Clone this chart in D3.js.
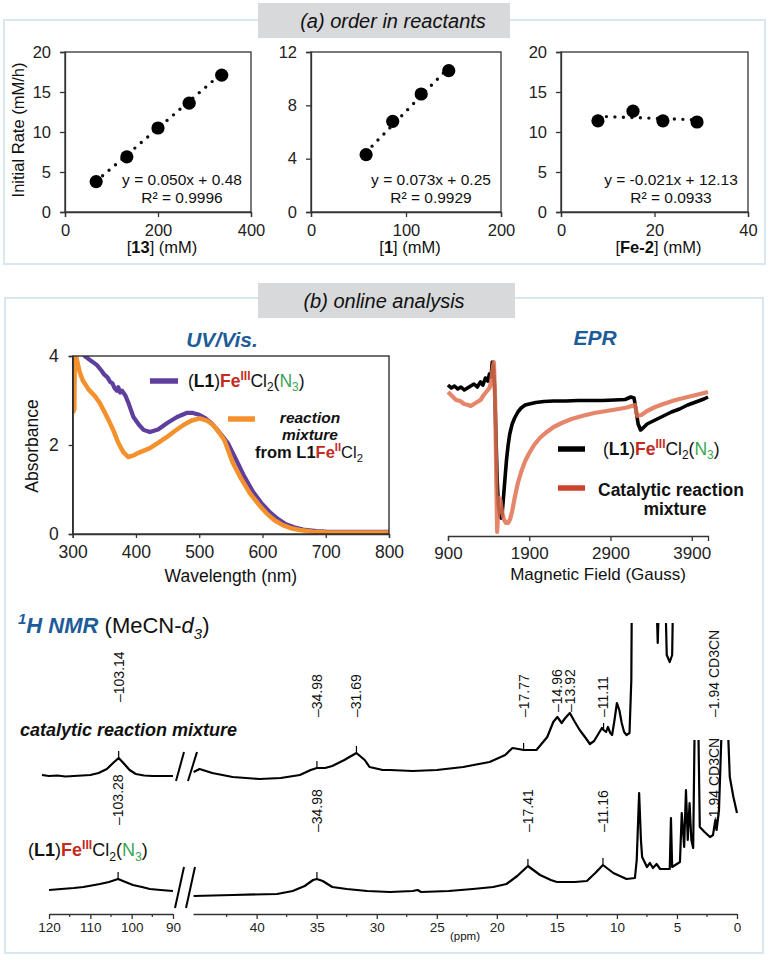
<!DOCTYPE html>
<html><head><meta charset="utf-8">
<script src="https://cdn.jsdelivr.net/npm/d3@7"></script>
<style>body{margin:0;background:#fff}svg{display:block}</style>
</head><body>
<svg id="c" width="772" height="960"></svg>
<script>
// ================= DATA =================
// (a) order in reactants
const conc13 = [67, 133, 200, 267, 337];
const rate13 = [3.8, 6.9, 10.5, 13.6, 17.1];
const conc1 = [58, 86, 116, 145];
const rate1 = [4.3, 6.8, 8.85, 10.6];
const concFe2 = [7.9, 15.4, 21.8, 29.1];
const rateFe2 = [11.4, 12.6, 11.4, 11.25];
const fitSlope = [0.050, 0.073, -0.021];
const fitIntercept = [0.48, 0.25, 12.13];
const fitR2 = ["0.9996", "0.9929", "0.0933"];
const rateXDomain = [[0, 400], [0, 200], [0, 40]];
const rateYDomain = [[0, 20], [0, 12], [0, 20]];
const rateXTicks = [[0, 200, 400], [0, 100, 200], [0, 20, 40]];
const rateYTicks = [[0, 5, 10, 15, 20], [0, 4, 8, 12], [0, 5, 10, 15, 20]];

// (b) UV/Vis
const uvWaveFe3 = [310,319,330,338,345,350,355,359,363,366,370,372,375,378,383,388,396,405,412,422,435,450,465,480,490,500,510,520,530,545,558,571,585,598,611,624,637,650,664,685,700,750,800];
const uvAbsFe3  = [4.3,4.0,3.88,3.8,3.68,3.58,3.52,3.42,3.38,3.28,3.22,3.3,3.18,3.22,3.12,2.95,2.63,2.45,2.34,2.29,2.35,2.5,2.63,2.72,2.72,2.68,2.6,2.48,2.32,2.05,1.68,1.3,0.95,0.7,0.5,0.34,0.22,0.15,0.1,0.065,0.055,0.05,0.05];
const uvWaveMix = [300,302.5,303.5,306,311,316,325,335,343,350,357,364,372,380,388,395,405,422,435,449,462,475,488,501,512,522,532,540,553,566,580,593,606,619,632,645,659,680,700,800];
const uvAbsMix  = [2.72,2.8,4.2,3.95,3.64,3.45,3.25,3.1,2.94,2.75,2.55,2.34,2.05,1.84,1.73,1.76,1.83,1.93,2.05,2.18,2.32,2.45,2.55,2.6,2.55,2.45,2.27,2.1,1.6,1.25,0.92,0.68,0.47,0.31,0.2,0.13,0.09,0.05,0.04,0.035];
const uvXTicks = [300, 400, 500, 600, 700, 800];
const uvYTicks = [0, 2, 4];

// (b) EPR
const eprFieldFe3 = [900,940,980,1020,1060,1100,1140,1180,1220,1260,1300,1330,1360,1390,1410,1430,1445,1460,1475,1490,1505,1520,1540,1555,1565,1575,1590,1605,1620,1640,1660,1690,1720,1760,1800,1850,1900,1980,2080,2200,2350,2500,2650,2800,2950,3080,3150,3190,3210,3240,3270,3300,3350,3450,3550,3650,3750,3850,3950,4050,4100];
const eprFe3 = [6.5,6.2,6.4,6.1,6.3,6.0,6.2,6.4,6.6,6.3,6.8,6.5,7.2,6.9,7.6,7.3,8.8,8.2,6.0,1.5,-3.0,-5.5,-6.6,-6.8,-6.5,-5.5,-4.0,-2.5,-1.0,0.5,1.6,2.6,3.2,3.8,4.2,4.5,4.6,4.75,4.85,4.9,4.9,4.95,4.95,4.95,5.0,5.05,5.3,5.2,4.2,2.6,2.0,2.2,2.6,3.0,3.4,3.8,4.1,4.5,4.8,5.1,5.3];
const eprFieldMix = [900,950,1000,1050,1100,1150,1180,1220,1260,1300,1340,1380,1410,1430,1450,1465,1480,1495,1505,1515,1530,1545,1565,1590,1615,1640,1665,1690,1720,1760,1800,1850,1900,1960,2030,2100,2200,2300,2420,2550,2700,2850,3000,3100,3180,3200,3230,3280,3350,3450,3550,3700,3850,4000,4100];
const eprMix = [5.8,5.4,5.0,4.9,4.6,4.5,4.4,4.6,4.8,5.0,5.5,5.9,6.2,6.8,8.2,8.8,5.0,-3.5,-8.2,-6.5,-4.8,-5.0,-6.2,-7.0,-7.3,-7.3,-6.9,-6.1,-4.8,-3.3,-2.2,-1.1,-0.3,0.5,1.2,1.7,2.3,2.7,3.1,3.4,3.7,3.9,4.1,4.25,4.45,4.5,3.4,3.5,3.9,4.3,4.6,5.0,5.3,5.6,5.8];
const eprXTicks = [900, 1900, 2900, 3900];

// (b) 1H NMR  (ppm, intensity)
const nmrMixPpmL = [121.7,120,118,116,114,112,110,108,106,104.5,103.14,102,100.5,99,97,95,93,91,90];
const nmrMixL    = [5,4,4.5,3.5,4,4.5,5,7,11,17,22,17,10,6,4.5,4,4,4,4];
const nmrMixPpmR = [45.25,44.75,43.7,42,39.75,38,36.4,35.5,34.98,34.3,33.7,32.7,31.69,31.0,30.6,29.5,28.9,27,25,22.8,20.6,19.3,18.7,18.2,17.77,17.2,16.7,15.8,15.3,14.96,14.6,14.3,13.92,13.5,13.1,12.6,12.25,11.9,11.7,11.25,11.11,10.9,10.75,10.55,10.4,10.2,10.0,9.8,9.6,9.4,9.2,8.95,8.8,8.75,7.0,6.75,6.6,6.45,6.0,5.85,5.6,5.4,5.3,0];
const nmrMixR    = [8,11,7,3,1,2,5,10,12,12,14,20,27,20,13,10,10,9,10,13,18,25,32,31,30,30,30,43,58,63,57,62,67,58,50,42,36,39,43,52,50,48,53,47,45,60,77,70,57,48,45,47,100,200,200,200,137,200,200,125,118,125,200,200];
const nmrFe3PpmL = [120,117,114,111.7,109,107.7,105.5,103.28,101.5,99.7,97.5,95.6,93,90];
const nmrFe3L    = [10,11,12,13,15,16,18,21,18,15,13,11,10,9];
const nmrFe3PpmR = [45.25,42,38.3,37,36,35.3,34.98,34.5,33.7,32.5,30.8,28.9,27,26.6,26.3,24,22,20.3,19.2,18.3,17.41,16.4,15.5,15,13.5,12.5,11.8,11.16,10.3,9.2,8.5,8.35,8.15,8.0,7.9,7.5,7.25,7.0,6.7,6.4,5.6,5.5,5.4,4.75,4.6,4.4,4.25,4.1,3.95,3.8,3.65,3.5,3.25,3.1,2.7,2.25,2.0,1.8,1.7,1.5,1.2,0.85,0.6,0.3,0];
const nmrFe3R    = [4,5,6,9,14,20,21,19,13,11,9,8,9,10,8,9,11,13,16,24,34,25,20,18,18,19,27,35,27,21,22,40,107,60,43,33,37,32,36,31,31,82,33,38,87,53,110,60,97,60,52,200,200,73,68,63,65,80,70,90,200,200,123,103,87];
const nmrMixPeaks = [103.14, 34.98, 31.69, 17.77, 14.96, 13.92, 11.11, 1.94];
const nmrMixPeakText = ["103.14", "34.98", "31.69", "17.77", "14.96", "13.92", "11.11", "1.94 CD3CN"];
const nmrFe3Peaks = [103.28, 34.98, 17.41, 11.16, 1.94];
const nmrFe3PeakText = ["103.28", "34.98", "17.41", "11.16", "1.94 CD3CN"];
const nmrTicksL = [120, 110, 100, 90];
const nmrTicksR = [40, 35, 30, 25, 20, 15, 10, 5, 0];

// ================= STYLE / LAYOUT =================
const FONT = '"Liberation Sans", Arial, Helvetica, sans-serif';
const BLUE = '#1d5c98', RED = '#c62a1f', GREEN = '#3aa655';
const PURPLE = '#5f3f9e', ORANGE = '#f5912c', SALMON = '#e0704f';
const BORDER = '#d9e7f3', HEADBG = '#d8d9db';
const svg = d3.select('#c').attr('font-family', FONT);

function rich(g, x, y, size, segs, anchor) {
  const t = g.append('text').attr('x', x).attr('y', y).attr('font-size', size)
    .attr('text-anchor', anchor || 'start').attr('fill', '#111');
  let shift = 0;
  segs.forEach(s => {
    const sp = t.append('tspan').text(s.t);
    const target = s.sup ? -size * 0.4 : s.sub ? size * 0.25 : 0;
    if (target !== shift) { sp.attr('dy', target - shift); shift = target; }
    if (s.sup || s.sub) sp.attr('font-size', size * 0.68);
    if (s.b) sp.attr('font-weight', 'bold');
    if (s.i) sp.attr('font-style', 'italic');
    if (s.c) sp.attr('fill', s.c);
  });
  return t;
}
function styleAxis(g, size) {
  g.attr('font-family', FONT).attr('font-size', size);
  g.select('.domain').attr('stroke', '#333').attr('stroke-width', 1.3);
  g.selectAll('.tick line').attr('stroke', '#333').attr('stroke-width', 1.3);
  g.selectAll('.tick text').attr('fill', '#222');
}
const feIII = [{t:'('},{t:'L1',b:1},{t:')'},{t:'Fe',b:1,c:RED},{t:'III',b:1,c:RED,sup:1},{t:'Cl'},{t:'2',sub:1},{t:'('},{t:'N',c:GREEN},{t:'3',c:GREEN,sub:1},{t:')'}];

// ---------- panel borders & headers ----------
svg.append('rect').attr('x', 4).attr('y', 20).attr('width', 761).attr('height', 244)
  .attr('fill', 'none').attr('stroke', BORDER).attr('stroke-width', 2);
svg.append('rect').attr('x', 5).attr('y', 298).attr('width', 758).attr('height', 655)
  .attr('fill', 'none').attr('stroke', BORDER).attr('stroke-width', 2);
svg.append('rect').attr('x', 258).attr('y', 3).attr('width', 252).attr('height', 35).attr('fill', HEADBG);
svg.append('text').attr('x', 393).attr('y', 28).attr('text-anchor', 'middle').attr('font-size', 20)
  .attr('font-style', 'italic').attr('fill', '#111').text('(a) order in reactants');
svg.append('rect').attr('x', 258).attr('y', 283).attr('width', 257).attr('height', 35).attr('fill', HEADBG);
svg.append('text').attr('x', 384).attr('y', 308).attr('text-anchor', 'middle').attr('font-size', 20)
  .attr('font-style', 'italic').attr('fill', '#111').text('(b) online analysis');

// ---------- (a) rate plots ----------
const rateSets = [
  {xs: conc13, ys: rate13, left: 65, right: 251, eqX: 182, xlab: [{t:'['},{t:'13',b:1},{t:'] (mM)'}]},
  {xs: conc1, ys: rate1, left: 311, right: 501, eqX: 431, xlab: [{t:'['},{t:'1',b:1},{t:'] (mM)'}]},
  {xs: concFe2, ys: rateFe2, left: 561, right: 748, eqX: 671, xlab: [{t:'['},{t:'Fe-2',b:1},{t:'] (mM)'}]}
];
rateSets.forEach((s, i) => {
  const top = 52, bottom = 212;
  const x = d3.scaleLinear().domain(rateXDomain[i]).range([s.left, s.right]);
  const y = d3.scaleLinear().domain(rateYDomain[i]).range([bottom, top]);
  const g = svg.append('g');
  g.append('rect').attr('x', s.left).attr('y', top).attr('width', s.right - s.left).attr('height', bottom - top)
    .attr('fill', 'none').attr('stroke', '#333').attr('stroke-width', 1.3);
  const ax = g.append('g').attr('transform', `translate(0,${bottom})`)
    .call(d3.axisBottom(x).tickValues(rateXTicks[i]).tickSize(5).tickPadding(7).tickFormat(d3.format('d')));
  styleAxis(ax, 16.5);
  const ay = g.append('g').attr('transform', `translate(${s.left},0)`)
    .call(d3.axisLeft(y).tickValues(rateYTicks[i]).tickSize(5).tickPadding(9).tickFormat(d3.format('d')));
  styleAxis(ay, 16.5);
  // trend line
  const x0 = d3.min(s.xs), x1 = d3.max(s.xs);
  g.append('line').attr('x1', x(x0)).attr('y1', y(fitSlope[i] * x0 + fitIntercept[i]))
    .attr('x2', x(x1)).attr('y2', y(fitSlope[i] * x1 + fitIntercept[i]))
    .attr('stroke', '#111').attr('stroke-width', 3.4).attr('stroke-linecap', 'round')
    .attr('stroke-dasharray', '0 8.5');
  g.selectAll('circle.p').data(s.xs).enter().append('circle')
    .attr('cx', d => x(d)).attr('cy', (d, j) => y(s.ys[j])).attr('r', 6.6).attr('fill', '#000');
  const sl = fitSlope[i].toFixed(3), ic = fitIntercept[i].toFixed(2);
  g.append('text').attr('x', s.eqX).attr('y', 185).attr('text-anchor', 'middle').attr('font-size', 15.5)
    .attr('fill', '#111').text(`y = ${sl}x + ${ic}`);
  g.append('text').attr('x', s.eqX).attr('y', 203).attr('text-anchor', 'middle').attr('font-size', 15.5)
    .attr('fill', '#111').text(`R² = ${fitR2[i]}`);
  rich(g, (s.left + s.right) / 2 + 4, 253, 16.5, s.xlab, 'middle');
});
svg.append('text').attr('transform', 'translate(24,130) rotate(-90)').attr('text-anchor', 'middle')
  .attr('font-size', 16.5).attr('fill', '#111').text('Initial Rate (mM/h)');

// ---------- UV/Vis ----------
{
  const L = 72.7, R = 389, T = 356, B = 534;
  const x = d3.scaleLinear().domain([300, 800]).range([L, R]);
  const y = d3.scaleLinear().domain([0, 4]).range([B, T]);
  const g = svg.append('g');
  g.append('clipPath').attr('id', 'uvclip').append('rect').attr('x', L).attr('y', T).attr('width', R - L).attr('height', B - T);
  const line = d3.line().x(d => x(d[0])).y(d => y(d[1])).curve(d3.curveLinear);
  g.append('path').datum(uvWaveFe3.map((w, j) => [w, uvAbsFe3[j]])).attr('d', line)
    .attr('fill', 'none').attr('stroke', PURPLE).attr('stroke-width', 4.2).attr('stroke-linejoin', 'round').attr('clip-path', 'url(#uvclip)');
  g.append('path').datum(uvWaveMix.map((w, j) => [w, uvAbsMix[j]])).attr('d', line)
    .attr('fill', 'none').attr('stroke', ORANGE).attr('stroke-width', 4.5).attr('stroke-linejoin', 'round').attr('clip-path', 'url(#uvclip)');
  g.append('rect').attr('x', L).attr('y', T).attr('width', R - L).attr('height', B - T)
    .attr('fill', 'none').attr('stroke', '#222').attr('stroke-width', 1.3);
  const ax = g.append('g').attr('transform', `translate(0,${B})`)
    .call(d3.axisBottom(x).tickValues(uvXTicks).tickSize(4).tickPadding(8).tickFormat(d3.format('d')));
  styleAxis(ax, 17.5);
  const ay = g.append('g').attr('transform', `translate(${L},0)`)
    .call(d3.axisLeft(y).tickValues(uvYTicks).tickSize(4).tickPadding(10).tickFormat(d3.format('d')));
  styleAxis(ay, 17.5);
  g.append('text').attr('x', (L + R) / 2).attr('y', 582).attr('text-anchor', 'middle').attr('font-size', 17.5)
    .attr('fill', '#111').text('Wavelength (nm)');
  g.append('text').attr('transform', 'translate(38,446) rotate(-90)').attr('text-anchor', 'middle')
    .attr('font-size', 17.5).attr('fill', '#111').text('Absorbance');
  g.append('text').attr('x', 222).attr('y', 347).attr('text-anchor', 'middle').attr('font-size', 21)
    .attr('font-weight', 'bold').attr('font-style', 'italic').attr('fill', BLUE).text('UV/Vis.');
  // legend
  g.append('line').attr('x1', 150).attr('x2', 178).attr('y1', 381).attr('y2', 381).attr('stroke', PURPLE).attr('stroke-width', 5.5);
  rich(g, 188, 387, 17.5, feIII);
  g.append('line').attr('x1', 228).attr('x2', 255).attr('y1', 419).attr('y2', 419).attr('stroke', ORANGE).attr('stroke-width', 5.5);
  g.append('text').attr('x', 310).attr('y', 423).attr('text-anchor', 'middle').attr('font-size', 15.5)
    .attr('font-weight', 'bold').attr('font-style', 'italic').attr('fill', '#111').text('reaction');
  g.append('text').attr('x', 310).attr('y', 440).attr('text-anchor', 'middle').attr('font-size', 15.5)
    .attr('font-weight', 'bold').attr('font-style', 'italic').attr('fill', '#111').text('mixture');
  rich(g, 309, 458, 16.5, [{t:'from L1',b:1},{t:'Fe',b:1,c:RED},{t:'II',b:1,c:RED,sup:1},{t:'Cl'},{t:'2',sub:1}], 'middle');
}

// ---------- EPR ----------
{
  const L = 448, R = 708, B = 536;
  const x = d3.scaleLinear().domain([900, 4100]).range([L, R]);
  const y = d3.scaleLinear().domain([-8.6, 9.4]).range([B, 356]);
  const g = svg.append('g');
  const line = d3.line().x(d => x(d[0])).y(d => y(d[1]));
  g.append('path').datum(eprFieldFe3.map((f, j) => [f, eprFe3[j]])).attr('d', line)
    .attr('fill', 'none').attr('stroke', '#000').attr('stroke-width', 3.6).attr('stroke-linejoin', 'round');
  g.append('path').datum(eprFieldMix.map((f, j) => [f, eprMix[j]])).attr('d', line)
    .attr('fill', 'none').attr('stroke', SALMON).attr('stroke-opacity', 0.85).attr('stroke-width', 4.2).attr('stroke-linejoin', 'round');
  const ax = g.append('g').attr('transform', `translate(0,${B})`)
    .call(d3.axisBottom(x).tickValues(eprXTicks).tickSize(5).tickPadding(6).tickFormat(d3.format('d')));
  styleAxis(ax, 17);
  g.append('text').attr('x', 598).attr('y', 580).attr('text-anchor', 'middle').attr('font-size', 17)
    .attr('fill', '#111').text('Magnetic Field (Gauss)');
  g.append('text').attr('x', 595).attr('y', 345).attr('text-anchor', 'middle').attr('font-size', 21)
    .attr('font-weight', 'bold').attr('font-style', 'italic').attr('fill', BLUE).text('EPR');
  g.append('line').attr('x1', 558).attr('x2', 585).attr('y1', 449).attr('y2', 449).attr('stroke', '#000').attr('stroke-width', 5.5);
  rich(g, 603, 455, 17.5, feIII);
  g.append('line').attr('x1', 558).attr('x2', 585).attr('y1', 488).attr('y2', 488).attr('stroke', '#c8442f').attr('stroke-width', 5.5);
  g.append('text').attr('x', 598).attr('y', 496).attr('font-size', 17.5).attr('font-weight', 'bold')
    .attr('fill', '#111').text('Catalytic reaction');
  g.append('text').attr('x', 675).attr('y', 515).attr('text-anchor', 'middle').attr('font-size', 17.5).attr('font-weight', 'bold')
    .attr('fill', '#111').text('mixture');
}

// ---------- 1H NMR ----------
{
  const xL = d3.scaleLinear().domain([120, 90]).range([49, 173]);
  const xR = d3.scaleLinear().domain([45.3, 0]).range([193, 737]);
  const xOf = p => p > 60 ? xL(p) : xR(p);
  const yMix = d3.scaleLinear().domain([0, 100]).range([780, 680]);
  const yFe3 = d3.scaleLinear().domain([0, 100]).range([900, 800]);
  const g = svg.append('g');
  g.append('clipPath').attr('id', 'clipMix').append('rect').attr('x', 0).attr('y', 623).attr('width', 772).attr('height', 300);
  g.append('clipPath').attr('id', 'clipFe3').append('rect').attr('x', 0).attr('y', 740).attr('width', 772).attr('height', 220);
  function spec(ppm, val, xs, ys, clip) {
    g.append('path').datum(ppm.map((p, j) => [p, val[j]]))
      .attr('d', d3.line().x(d => xs(d[0])).y(d => ys(d[1])))
      .attr('fill', 'none').attr('stroke', '#000').attr('stroke-width', 2.2).attr('stroke-linejoin', 'round')
      .attr('clip-path', `url(#${clip})`);
  }
  spec(nmrMixPpmL, nmrMixL, xL, yMix, 'clipMix');
  spec(nmrMixPpmR, nmrMixR, xR, yMix, 'clipMix');
  spec(nmrFe3PpmL, nmrFe3L, xL, yFe3, 'clipFe3');
  spec(nmrFe3PpmR, nmrFe3R, xR, yFe3, 'clipFe3');

  function interp(ps, vs, p) {
    for (let j = 0; j < ps.length - 1; j++) {
      const a = ps[j], b = ps[j + 1];
      if ((p <= a && p >= b) || (p >= a && p <= b)) return vs[j] + (p - a) / (b - a) * (vs[j + 1] - vs[j]);
    }
    return vs[0];
  }
  function labels(peaks, texts, bases, ppmL, vL, ppmR, vR, ys, ticks) {
    peaks.forEach((p, j) => {
      const x = xOf(p);
      g.append('text').attr('transform', `translate(${x},${bases[j]}) rotate(-90)`).attr('dy', '0.35em')
        .attr('font-size', 14).attr('fill', '#111').text('–' + texts[j]);
      if (ticks[j]) {
        const v = p > 60 ? interp(ppmL, vL, p) : interp(ppmR, vR, p);
        const yy = ys(v);
        g.append('line').attr('x1', x).attr('x2', x).attr('y1', yy - 7).attr('y2', yy - 1).attr('stroke', '#000').attr('stroke-width', 1.2);
      }
    });
  }
  labels(nmrMixPeaks, nmrMixPeakText, [702, 717, 717, 717, 712, 712, 717, 717],
    nmrMixPpmL, nmrMixL, nmrMixPpmR, nmrMixR, yMix, [1, 1, 1, 1, 0, 0, 1, 0]);
  labels(nmrFe3Peaks, nmrFe3PeakText, [825, 832, 832, 832, 825],
    nmrFe3PpmL, nmrFe3L, nmrFe3PpmR, nmrFe3R, yFe3, [1, 1, 1, 1, 0]);

  // break marks
  [[176,781,184,752],[188,781,197,752],[175,908,184,867],[186,908,195,867]].forEach(s => {
    g.append('line').attr('x1', s[0]).attr('y1', s[1]).attr('x2', s[2]).attr('y2', s[3]).attr('stroke', '#000').attr('stroke-width', 2);
  });
  // axes
  const AY = 914;
  const axL = g.append('g').attr('transform', `translate(0,${AY})`)
    .call(d3.axisBottom(xL).tickValues(nmrTicksL).tickSize(5).tickPadding(3).tickSizeOuter(0).tickFormat(d3.format('d')));
  styleAxis(axL, 13.5);
  const axR = g.append('g').attr('transform', `translate(0,${AY})`)
    .call(d3.axisBottom(xR).tickValues(nmrTicksR).tickSize(5).tickPadding(3).tickSizeOuter(0).tickFormat(d3.format('d')));
  styleAxis(axR, 13.5);
  const minorL = [115, 105, 95], minorR = d3.range(42.5, 0, -5);
  minorL.forEach(p => g.append('line').attr('x1', xL(p)).attr('x2', xL(p)).attr('y1', AY).attr('y2', AY + 3).attr('stroke', '#333').attr('stroke-width', 1.2));
  minorR.forEach(p => g.append('line').attr('x1', xR(p)).attr('x2', xR(p)).attr('y1', AY).attr('y2', AY + 3).attr('stroke', '#333').attr('stroke-width', 1.2));
  g.append('text').attr('x', 465).attr('y', 940).attr('text-anchor', 'middle').attr('font-size', 11.5).attr('fill', '#111').text('(ppm)');

  // titles
  rich(g, 18, 633, 22, [{t:'1',sup:1,b:1,i:1,c:BLUE},{t:'H NMR',b:1,i:1,c:BLUE},{t:' (MeCN-'},{t:'d',i:1},{t:'3',sub:1,i:1},{t:')'}]);
  g.append('text').attr('x', 20).attr('y', 736).attr('font-size', 18).attr('font-weight', 'bold').attr('font-style', 'italic')
    .attr('fill', '#111').text('catalytic reaction mixture');
  rich(g, 28, 856, 18, feIII);
}
</script>
</body></html>
